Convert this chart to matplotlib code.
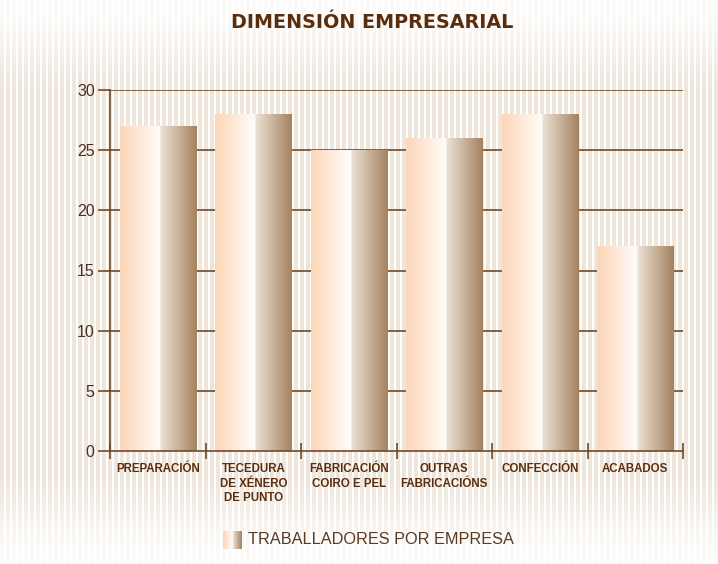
import numpy as np
import matplotlib
matplotlib.use("Agg")
import matplotlib.pyplot as plt
from matplotlib.colors import LinearSegmentedColormap, to_rgb

categories = ["PREPARACIÓN", "TECEDURA\nDE XÉNERO\nDE PUNTO", "FABRICACIÓN\nCOIRO E PEL",
              "OUTRAS\nFABRICACIÓNS", "CONFECCIÓN", "ACABADOS"]
values = [27, 28, 25, 26, 28, 17]
yticks = [0, 5, 10, 15, 20, 25, 30]
title = "DIMENSIÓN EMPRESARIAL"
legend_label = "TRABALLADORES POR EMPRESA"

W, H = 718, 564
DARK = "#5a2d0c"
LINE = "#6e4a2c"
plt.rcParams["font.family"] = ["Liberation Sans", "DejaVu Sans"]

bar_cmap = LinearSegmentedColormap.from_list(
    "bar", [(0.0, "#fdd5b8"), (0.52, "#fffdfa"), (0.53, "#ece1d4"), (1.0, "#a4825f")])

fig = plt.figure(figsize=(W / 100, H / 100), dpi=100)

# pinstripe background, fading out towards top and bottom
bg = fig.add_axes([0, 0, 1, 1], zorder=-10)
xs = np.arange(W)
ys = np.arange(H)
stripe = ((xs % 6) < 4).astype(float)
env = np.clip(np.minimum(ys / 90.0, (H - ys) / 90.0), 0.12, 1.0)
mask = env[:, None] * stripe[None, :]
sc = np.array(to_rgb("#eee5db"))
img = 1 - mask[..., None] * (1 - sc[None, None, :])
bg.imshow(img, aspect="auto", interpolation="nearest")
bg.axis("off")

ax = fig.add_axes([110 / W, 113 / H, 573 / W, 361 / H])
ax.patch.set_alpha(0)

for y in yticks[1:]:
    ax.axhline(y, color=LINE, lw=1.2, zorder=1)

grad = np.linspace(0, 1, 256)[None, :]
bw = 0.8
for i, v in enumerate(values):
    x0 = i + 0.5 - bw / 2
    ax.imshow(grad, cmap=bar_cmap, aspect="auto", interpolation="bilinear",
              extent=(x0, x0 + bw, 0, v), zorder=2)
ax.set_xlim(0, len(categories))
ax.set_ylim(0, 30)

for s in ["top", "right"]:
    ax.spines[s].set_visible(False)
for s in ["left", "bottom"]:
    ax.spines[s].set_color(LINE)
    ax.spines[s].set_linewidth(1.2)
    ax.spines[s].set_zorder(3)

ax.set_yticks(yticks)
ax.set_yticklabels([str(t) for t in yticks], fontsize=11.5, color="#4a3020")
ax.tick_params(axis="y", direction="out", length=9, width=1.2, color=LINE, pad=2)

ax.set_xticks(range(len(categories) + 1))
ax.set_xticklabels([])
ax.tick_params(axis="x", which="major", direction="inout", length=12, width=1.2, color=LINE)
ax.set_xticks([i + 0.5 for i in range(len(categories))], minor=True)
ax.set_xticklabels(categories, minor=True, fontsize=8.3, fontweight="bold", color=DARK,
                   linespacing=1.25)
ax.tick_params(axis="x", which="minor", length=0, pad=9)

fig.text(372 / W, 1 - 22 / H, title, ha="center", va="center", fontsize=13.8,
         fontweight="bold", color=DARK, family="DejaVu Sans")

# legend swatch
lax = fig.add_axes([223 / W, (H - 549) / H, 19 / W, 18 / H])
lax.imshow(grad, cmap=bar_cmap, aspect="auto", extent=(0, 1, 0, 1))
lax.axis("off")
fig.text(248 / W, 1 - 540 / H, legend_label, ha="left", va="center",
         fontsize=11.7, color="#5a3a20")

fig.savefig("out.png", dpi=100)
